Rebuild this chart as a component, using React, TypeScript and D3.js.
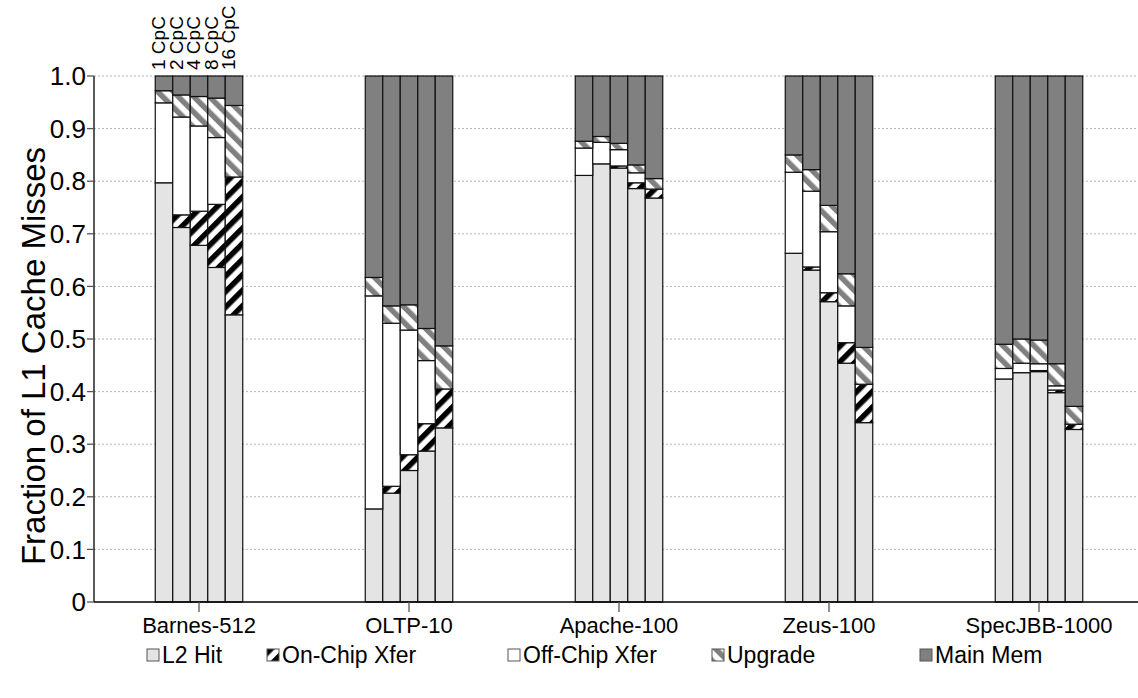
import React from 'react'
import * as d3 from 'd3'

const categories = ['Barnes-512', 'OLTP-10', 'Apache-100', 'Zeus-100', 'SpecJBB-1000']
const configs = ['1 CpC', '2 CpC', '4 CpC', '8 CpC', '16 CpC']
const seriesNames = ['L2 Hit', 'On-Chip Xfer', 'Off-Chip Xfer', 'Upgrade', 'Main Mem']

// one row per category, one value per config
const l2Hit = [
  [0.797, 0.712, 0.678, 0.636, 0.546],
  [0.177, 0.207, 0.25, 0.287, 0.331],
  [0.811, 0.833, 0.825, 0.786, 0.768],
  [0.663, 0.631, 0.571, 0.454, 0.341],
  [0.424, 0.436, 0.438, 0.398, 0.328],
]
const onChip = [
  [0, 0.024, 0.065, 0.12, 0.262],
  [0, 0.013, 0.03, 0.052, 0.074],
  [0, 0, 0.004, 0.011, 0.017],
  [0, 0.006, 0.017, 0.039, 0.073],
  [0, 0, 0.002, 0.005, 0.01],
]
const offChip = [
  [0.152, 0.186, 0.162, 0.127, 0],
  [0.405, 0.31, 0.237, 0.12, 0],
  [0.052, 0.041, 0.031, 0.019, 0],
  [0.154, 0.144, 0.116, 0.07, 0],
  [0.02, 0.018, 0.013, 0.008, 0],
]
const upgrade = [
  [0.023, 0.042, 0.056, 0.075, 0.136],
  [0.035, 0.033, 0.048, 0.061, 0.082],
  [0.013, 0.011, 0.012, 0.015, 0.02],
  [0.033, 0.041, 0.05, 0.061, 0.07],
  [0.046, 0.046, 0.045, 0.042, 0.034],
]
const mainMem = [
  [0.028, 0.036, 0.039, 0.042, 0.056],
  [0.383, 0.437, 0.435, 0.48, 0.513],
  [0.124, 0.115, 0.128, 0.169, 0.195],
  [0.15, 0.178, 0.246, 0.376, 0.516],
  [0.51, 0.5, 0.502, 0.547, 0.628],
]
const yTicks = [0, 0.1, 0.2, 0.3, 0.4, 0.5, 0.6, 0.7, 0.8, 0.9, 1.0]

const W = 1138
const H = 698
const FONT = 'Liberation Sans, Arial, Helvetica, sans-serif'
const fills = ['#e4e4e4', 'url(#onchip)', '#ffffff', 'url(#upgrade)', '#808080']
const legendX = [147, 267, 508, 712, 920]

export default function App() {
  const x = d3.scaleBand().domain(categories).range([94, 1144])
  const inner = d3.scaleBand().domain(configs).range([0, 87.5])
  const y = d3.scaleLinear().domain([0, 1]).range([602, 76])

  const sources = [l2Hit, onChip, offChip, upgrade, mainMem]
  const rows = categories.flatMap((c, ci) =>
    configs.map((cfg, k) => {
      const r: any = { cat: c, cfg }
      seriesNames.forEach((s, si) => (r[s] = sources[si][ci][k]))
      return r
    })
  )
  const stacked = d3.stack().keys(seriesNames)(rows)

  const barX = (r: any) => x(r.cat)! + x.bandwidth() / 2 - 43.75 + inner(r.cfg)!

  return (
    <svg width={W} height={H} style={{ position: 'absolute', left: 0, top: 0 }} fontFamily={FONT}>
      <defs>
        <pattern id="onchip" patternUnits="userSpaceOnUse" width="11" height="11" patternTransform="rotate(45)">
          <rect width="11" height="11" fill="#fff" />
          <rect width="5.5" height="11" fill="#000" />
        </pattern>
        <pattern id="upgrade" patternUnits="userSpaceOnUse" width="11" height="11" patternTransform="rotate(-45)">
          <rect width="11" height="11" fill="#fff" />
          <rect width="5.5" height="11" fill="#808080" />
        </pattern>
      </defs>
      <rect width={W} height={H} fill="#fff" />

      {/* grid */}
      {yTicks.slice(1).map(t => (
        <line key={t} x1={94} x2={W} y1={y(t)} y2={y(t)} stroke="#b4b4b4" strokeDasharray="2,2" />
      ))}

      {/* bars */}
      {stacked.map((layer, si) =>
        layer.map((d, i) => {
          if (d[1] - d[0] <= 0) return null
          return (
            <rect
              key={si + '-' + i}
              x={barX(rows[i])}
              width={inner.bandwidth()}
              y={y(d[1])}
              height={y(d[0]) - y(d[1])}
              fill={fills[si]}
              stroke="#111"
              strokeWidth={1.2}
            />
          )
        })
      )}

      {/* y axis */}
      <line x1={94} x2={94} y1={y(1)} y2={y(0)} stroke="#000" strokeWidth={1.3} />
      {yTicks.map(t => (
        <g key={t}>
          <line x1={87} x2={94} y1={y(t)} y2={y(t)} stroke="#555" strokeWidth={1.3} />
          <text x={86} y={y(t)} dy="0.35em" textAnchor="end" fontSize={26}>
            {t === 0 ? '0' : d3.format('.1f')(t)}
          </text>
        </g>
      ))}
      <text transform={`translate(45,356) rotate(-90)`} textAnchor="middle" fontSize={33}>
        Fraction of L1 Cache Misses
      </text>

      {/* x axis */}
      <line x1={94} x2={W} y1={y(0)} y2={y(0)} stroke="#000" strokeWidth={1.5} />
      {categories.map(c => (
        <g key={c}>
          <line x1={x(c)! + x.bandwidth() / 2} x2={x(c)! + x.bandwidth() / 2} y1={y(0)} y2={y(0) + 10} stroke="#555" strokeWidth={1.3} />
          <text x={x(c)! + x.bandwidth() / 2} y={633} textAnchor="middle" fontSize={22}>
            {c}
          </text>
        </g>
      ))}

      {/* config labels above first group */}
      {configs.map(cfg => {
        const cx = x(categories[0])! + x.bandwidth() / 2 - 43.75 + inner(cfg)! + inner.bandwidth() / 2
        return (
          <text key={cfg} transform={`translate(${cx + 1},70) rotate(-90)`} fontSize={19}>
            {cfg}
          </text>
        )
      })}

      {/* legend */}
      {seriesNames.map((s, i) => (
        <g key={s} transform={`translate(${legendX[i]},649)`}>
          <rect width={12} height={12} fill={fills[i]} stroke="#555" strokeWidth={1} />
          <text x={15} y={6} dy="0.35em" fontSize={23}>
            {s}
          </text>
        </g>
      ))}
    </svg>
  )
}
